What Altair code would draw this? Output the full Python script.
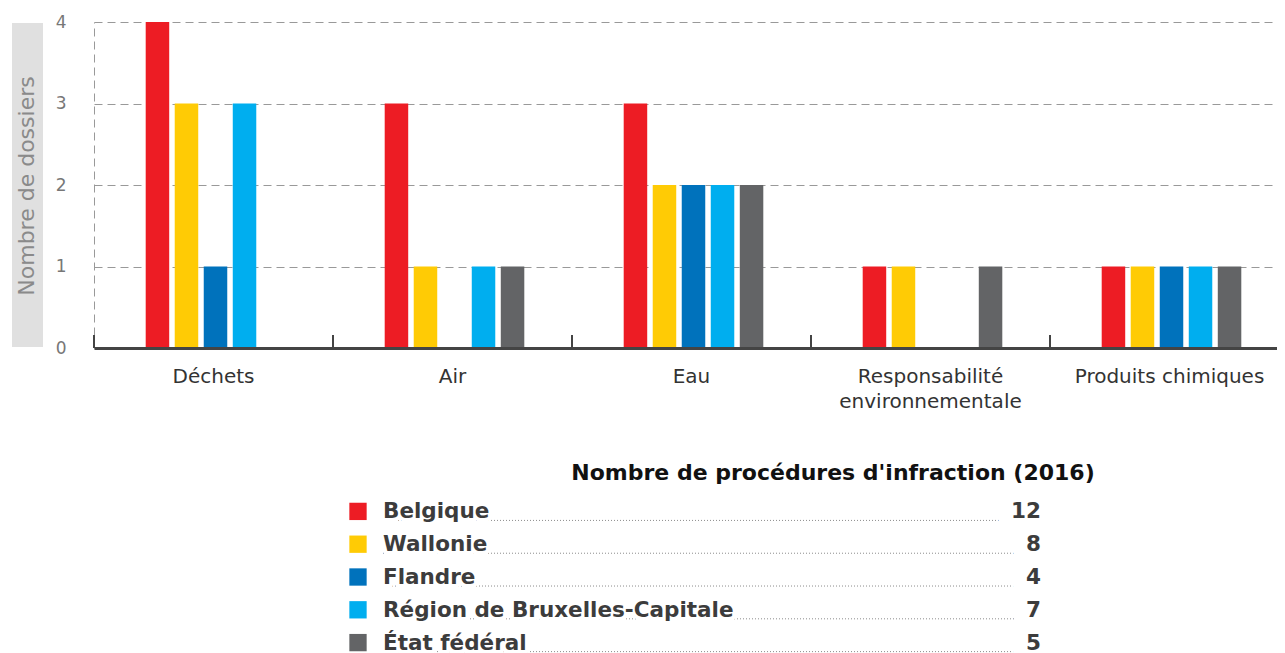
import altair as alt
import pandas as pd

categories = ["Déchets", "Air", "Eau", "Responsabilité environnementale", "Produits chimiques"]
series = ["Belgique", "Wallonie", "Flandre", "Région de Bruxelles-Capitale", "État fédéral"]
belgique = [4, 3, 3, 1, 1]
wallonie = [3, 1, 2, 1, 1]
flandre = [1, 0, 2, 0, 1]
bruxelles = [3, 1, 2, 0, 1]
etat = [0, 1, 2, 1, 1]
totals = [12, 8, 4, 7, 5]
colors = ["#ED1C24", "#FFCB05", "#0072BC", "#00AEEF", "#636466"]
y_ticks = [0, 1, 2, 3, 4]
y_title = "Nombre de dossiers"
legend_title = "Nombre de procédures d'infraction (2016)"

FONT = "DejaVu Sans"
W, H = 1195, 326

values_by_series = [belgique, wallonie, flandre, bruxelles, etat]
rows = []
for s, vals in zip(series, values_by_series):
    for c, v in zip(categories, vals):
        if v > 0:
            rows.append({"category": c, "series": s, "value": v})
df = pd.DataFrame(rows)
cat_df = pd.DataFrame({"category": categories})

color_scale = alt.Scale(domain=series, range=colors)
x_enc = alt.X(
    "category:N", sort=categories,
    scale=alt.Scale(domain=categories, paddingInner=0, paddingOuter=0),
    axis=alt.Axis(
        title=None, labelAngle=0, ticks=False, tickSize=0, domain=True,
        domainWidth=3, domainColor="#444444", labelFontSize=20, labelColor="#333333",
        labelPadding=18, labelLineHeight=25, labelFont=FONT, zindex=1, labelLimit=500,
        labelExpr="indexof(datum.label, 'environ') > 0 ? split(datum.label, ' ') : datum.label",
    ),
)

bars = alt.Chart(df).mark_bar().encode(
    x=x_enc,
    xOffset=alt.XOffset("series:N", sort=series,
                        scale=alt.Scale(domain=series, paddingInner=0.19, paddingOuter=0,
                                        range=[51.7, 191.3])),
    y=alt.Y("value:Q", scale=alt.Scale(domain=[0, 4], nice=False),
            axis=alt.Axis(values=y_ticks, format="d", grid=True, gridDash=[8, 5], gridColor="#999999",
                          gridWidth=1, domain=True, domainDash=[8, 5], domainColor="#999999",
                          ticks=False, tickSize=0, labelFontSize=17, labelColor="#777777", labelPadding=28,
                          labelFont=FONT, title=None)),
    color=alt.Color("series:N", scale=color_scale, legend=None),
)

title_df = pd.DataFrame({"t": [y_title]})
title_box = alt.Chart(title_df).mark_rect(color="#e0e0e0").encode(
    x=alt.value(-82), x2=alt.value(-51), y=alt.value(1), y2=alt.value(H - 1)
)
title_text = alt.Chart(title_df).mark_text(
    angle=270, align="center", baseline="middle", font=FONT, fontSize=22, color="#8a8a8a"
).encode(x=alt.value(-67), y=alt.value(H / 2 + 1), text="t:N")

cat_ticks = alt.Chart(cat_df).mark_rule(color="#444444", strokeWidth=2).encode(
    x=alt.X("category:N", sort=categories, bandPosition=0),
    y=alt.value(H - 13), y2=alt.value(H),
)

top = alt.layer(title_box, title_text, bars, cat_ticks).properties(width=W, height=H)

# ---- custom legend ----
leg_df = pd.DataFrame({"series": series, "total": totals})
LH = 164
ysc = alt.Scale(domain=series, paddingInner=0, paddingOuter=0)
y_row = alt.Y("series:N", sort=series, scale=ysc, axis=None)
DX = -82
SQ_X, LAB_X, NUM_X, TIT_X = 346 + DX, 371 + DX, 1029 + DX, 821 + DX

squares = alt.Chart(leg_df).mark_square(size=300, opacity=1).encode(
    x=alt.value(SQ_X), y=y_row,
    color=alt.Color("series:N", scale=color_scale, legend=None),
)
leaders = alt.Chart(leg_df).mark_rule(color="#8c8c8c", strokeWidth=1, strokeDash=[1, 2]).encode(
    x=alt.value(LAB_X), x2=alt.value(NUM_X - 17),
    y=alt.Y("series:N", sort=series, scale=ysc, axis=None, bandPosition=0.775),
)
label_halo = alt.Chart(leg_df).mark_text(
    align="left", baseline="alphabetic", dy=7, font=FONT, fontSize=21.5, fontWeight="bold",
    color="white", stroke="white", strokeWidth=8, strokeJoin="round",
).encode(x=alt.value(LAB_X), y=y_row, text="series:N")
labels = alt.Chart(leg_df).mark_text(
    align="left", baseline="alphabetic", dy=7, font=FONT, fontSize=21.5, fontWeight="bold",
    color="#3c3c3c",
).encode(x=alt.value(LAB_X), y=y_row, text="series:N")
num_halo = alt.Chart(leg_df).mark_text(
    align="right", baseline="alphabetic", dy=7, font=FONT, fontSize=21.5, fontWeight="bold",
    color="white", stroke="white", strokeWidth=30, strokeJoin="round",
).encode(x=alt.value(NUM_X), y=y_row, text="total:Q")
nums = alt.Chart(leg_df).mark_text(
    align="right", baseline="alphabetic", dy=7, font=FONT, fontSize=21.5, fontWeight="bold",
    color="#3c3c3c",
).encode(x=alt.value(NUM_X), y=y_row, text="total:Q")
leg_title = alt.Chart(pd.DataFrame({"t": [legend_title]})).mark_text(
    align="center", baseline="alphabetic", font=FONT, fontSize=22, fontWeight="bold", color="#111111",
).encode(x=alt.value(TIT_X), y=alt.value(-15), text="t:N")

legend = alt.layer(squares, leaders, label_halo, labels, num_halo, nums, leg_title).properties(
    width=1000, height=LH
)

chart = alt.vconcat(top, legend, spacing=51).properties(
    padding={"left": 4, "top": 5, "right": -12, "bottom": 0}
).configure(font=FONT).configure_view(stroke=None)

chart.save("out.html", embed_options={"renderer": "svg", "actions": False})
